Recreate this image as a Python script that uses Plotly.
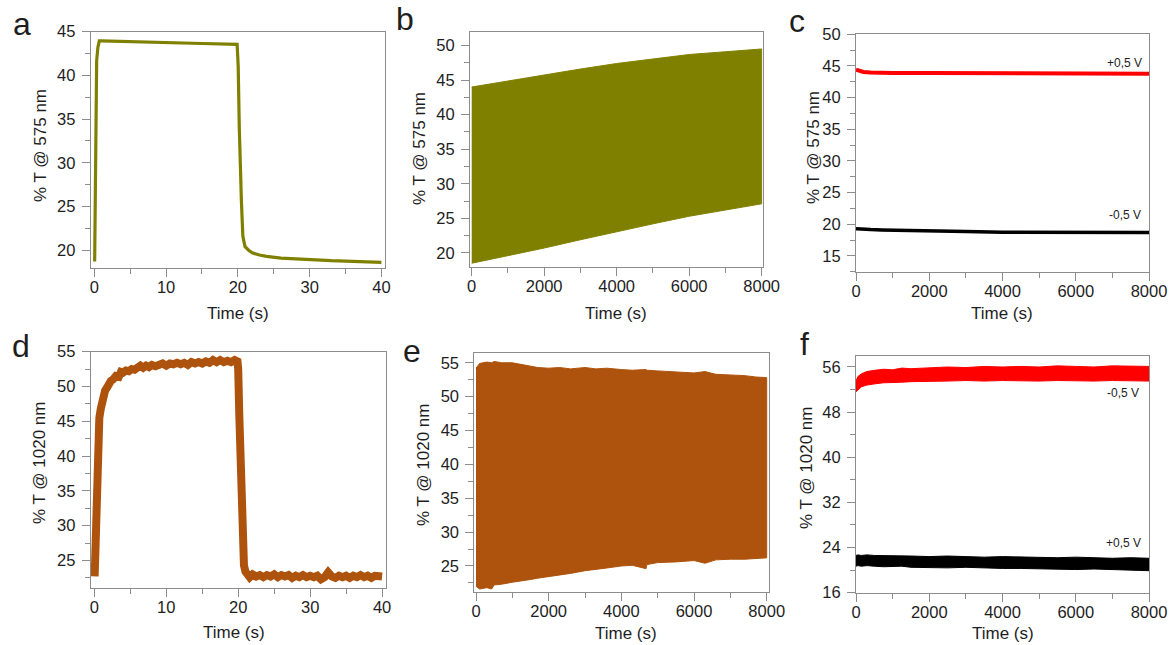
import plotly.graph_objects as go
from plotly.subplots import make_subplots

W, H = 1169, 645

OLIVE = "rgb(128,128,0)"
RUST = "rgb(174,83,13)"
RED = "rgb(255,0,0)"
BLACK = "rgb(0,0,0)"
FRAME = "#8c8c8c"
TXT = "#1e1e1e"
FONT = "Liberation Sans, Arial, sans-serif"

# ---- panel a: single switching cycle @ 575 nm
a_time = [0.05, 0.15, 0.33, 0.5, 0.7, 1, 5, 10, 15, 19.9, 20.05, 20.2, 20.35, 20.5,
          20.7, 21, 21.5, 22, 23, 24, 26, 28, 30, 33, 35, 38, 40]
a_trans = [18.7, 28.0, 41.7, 43.2, 43.95, 43.95, 43.85, 43.7, 43.65, 43.55, 41.0, 34.0,
           28.5, 25.5, 21.6, 20.4, 20.0, 19.7, 19.45, 19.3, 19.1, 19.0, 18.9, 18.8,
           18.75, 18.65, 18.6]

# ---- panel b: long-term cycling @ 575 nm (envelope of the cycles)
b_time = [0, 1000, 2000, 3000, 4000, 5000, 6000, 7000, 8000]
b_upper = [44.0, 44.9, 45.8, 46.6, 47.4, 48.1, 48.7, 49.1, 49.5]
b_lower = [18.5, 19.6, 20.7, 21.9, 23.1, 24.2, 25.3, 26.2, 27.1]

# ---- panel c: memory @ 575 nm
c_time = [0, 100, 200, 400, 700, 1000, 2000, 3000, 4000, 5000, 6000, 7000, 8000]
c_plus = [44.4, 44.2, 44.05, 43.95, 43.9, 43.9, 43.9, 43.88, 43.85, 43.8, 43.8, 43.78, 43.75]
c_minus = [19.3, 19.25, 19.2, 19.15, 19.1, 19.05, 18.95, 18.85, 18.75, 18.72, 18.7, 18.7, 18.68]

# ---- panel d: single switching cycle @ 1020 nm
d_time = [0.05, 0.2, 0.35, 0.5, 0.7, 0.9, 1.1, 1.3, 1.5, 1.8, 2.0, 2.3, 2.6, 3.0, 3.4, 3.7,
          4.0, 4.4, 4.8, 5.2, 5.6, 6.0, 6.4, 6.8, 7.2, 7.6, 8.0, 8.5, 9.0, 9.5, 10.0, 10.5,
          11.0, 11.5, 12.0, 12.5, 13.0, 13.5, 14.0, 14.5, 15.0, 15.5, 16.0, 16.5, 17.0,
          17.5, 18.0, 18.5, 19.0, 19.5, 19.9, 20.0, 20.15, 20.3, 20.45, 20.6, 20.8, 21.0,
          21.3, 21.6, 22.0, 22.5, 23.0, 23.5, 24.0, 24.5, 25.0, 25.5, 26.0, 26.5, 27.0,
          27.5, 28.0, 28.5, 29.0, 29.5, 30.0, 30.5, 31.0, 31.5, 32.0, 32.5, 33.0, 33.5,
          34.0, 34.5, 35.0, 35.5, 36.0, 36.5, 37.0, 37.5, 38.0, 38.5, 39.0, 39.5, 40.0]
d_trans = [22.7, 30.0, 38.0, 43.0, 45.5, 46.8, 47.9, 48.6, 49.4, 49.9, 50.5, 50.8, 51.0,
           51.5, 51.4, 52.1, 52.0, 52.3, 52.2, 52.5, 52.4, 52.7, 53.0, 52.7, 53.0, 52.8,
           53.1, 52.9, 53.1, 53.3, 53.0, 53.3, 53.2, 53.4, 53.2, 53.4, 53.1, 53.5, 53.3,
           53.5, 53.3, 53.6, 53.4, 53.8, 53.5, 53.8, 53.5, 53.7, 53.5, 53.8, 53.6, 52.5,
           46.0, 38.0, 31.0, 26.5, 24.3, 23.4, 23.0, 22.6, 23.0, 22.7, 22.9, 22.6, 22.9,
           22.7, 23.0, 22.6, 22.9, 22.7, 22.9, 22.5, 22.8, 22.6, 22.9, 22.6, 22.8, 22.6,
           22.8, 22.3, 22.6, 23.3, 22.7, 22.5, 22.8, 22.6, 22.8, 22.5, 22.8, 22.6, 22.9,
           22.6, 22.8, 22.5, 22.8, 22.6, 22.7]

# ---- panel e: long-term cycling @ 1020 nm (envelope of the cycles)
e_time = [0, 100, 300, 430, 500, 700, 1000, 1200, 1500, 1700, 2000, 2300, 2600, 3000,
          3300, 3600, 4000, 4300, 4680, 4700, 5000, 5500, 6000, 6300, 6600, 7000, 7400,
          7700, 8000]
e_upper = [54.2, 54.9, 55.1, 55.0, 55.2, 55.0, 55.0, 54.8, 54.4, 54.3, 54.2, 54.3, 54.1,
           54.3, 54.1, 54.2, 54.0, 53.9, 54.0, 53.9, 53.8, 53.6, 53.5, 53.7, 53.3, 53.2,
           53.1, 52.9, 52.8]
e_lower = [22.0, 21.6, 21.8, 21.6, 22.2, 22.3, 22.6, 22.8, 23.0, 23.2, 23.5, 23.7, 23.9,
           24.3, 24.5, 24.7, 25.0, 25.1, 24.6, 25.2, 25.5, 25.6, 25.8, 25.4, 25.9, 26.0,
           26.0, 26.1, 26.2]

# ---- panel f: memory @ 1020 nm (noise band)
f_time = [0, 50, 150, 300, 500, 750, 1000, 1250, 1500, 2000, 2500, 3000, 3500, 4000,
          4500, 5000, 5500, 6000, 6500, 7000, 7500, 8000]
f_minus_hi = [53.5, 54.3, 54.8, 55.2, 55.4, 55.6, 55.5, 55.8, 55.7, 55.9, 56.0, 55.9,
              56.1, 56.0, 56.1, 56.0, 56.2, 56.1, 56.0, 56.2, 56.1, 56.1]
f_minus_lo = [51.6, 52.0, 52.5, 52.8, 53.0, 53.2, 53.3, 53.3, 53.4, 53.5, 53.5, 53.6,
              53.5, 53.6, 53.6, 53.5, 53.6, 53.6, 53.5, 53.6, 53.6, 53.5]
f_plus_hi = [22.6, 22.7, 22.6, 22.7, 22.6, 22.6, 22.5, 22.6, 22.5, 22.4, 22.5, 22.4,
             22.3, 22.4, 22.3, 22.3, 22.2, 22.3, 22.2, 22.1, 22.2, 22.1]
f_plus_lo = [20.7, 20.8, 20.7, 20.8, 20.7, 20.6, 20.6, 20.7, 20.5, 20.5, 20.4, 20.5,
             20.4, 20.3, 20.3, 20.2, 20.2, 20.1, 20.2, 20.0, 20.0, 19.9]


def band(t, hi, lo, color):
    # closed polygon between an upper and a lower envelope
    return go.Scatter(x=list(t) + list(t)[::-1], y=list(hi) + list(lo)[::-1],
                      mode="lines", fill="toself", fillcolor=color,
                      line=dict(color=color, width=1), showlegend=False,
                      hoverinfo="skip")


fig = make_subplots(rows=2, cols=3)

fig.add_trace(go.Scatter(x=a_time, y=a_trans, mode="lines",
                         line=dict(color=OLIVE, width=3.2)), row=1, col=1)
fig.add_trace(band(b_time, b_upper, b_lower, OLIVE), row=1, col=2)
fig.add_trace(go.Scatter(x=c_time, y=c_plus, mode="lines",
                         line=dict(color=RED, width=4)), row=1, col=3)
fig.add_trace(go.Scatter(x=c_time, y=c_minus, mode="lines",
                         line=dict(color=BLACK, width=3.5)), row=1, col=3)
fig.add_trace(go.Scatter(x=d_time, y=d_trans, mode="lines",
                         line=dict(color=RUST, width=8)), row=2, col=1)
fig.add_trace(band(e_time, e_upper, e_lower, RUST), row=2, col=2)
fig.add_trace(band(f_time, f_minus_hi, f_minus_lo, RED), row=2, col=3)
fig.add_trace(band(f_time, f_plus_hi, f_plus_lo, BLACK), row=2, col=3)

# plot frames in pixels: left, right, top, bottom
boxes = {
    1: (90.7, 385.0, 31.7, 267.7),
    2: (470.0, 762.7, 31.7, 266.7),
    3: (856.0, 1149.0, 34.3, 271.7),
    4: (90.7, 385.7, 351.7, 588.3),
    5: (474.3, 769.0, 353.3, 591.7),
    6: (856.0, 1149.0, 355.7, 592.7),
}

xcfg = {
    1: dict(range=[-0.5, 40.5], dtick=10, minor=5),
    2: dict(range=[-47, 8028], dtick=2000, minor=1000),
    3: dict(range=[0, 8000], dtick=2000, minor=1000),
    4: dict(range=[-0.5, 40.5], dtick=10, minor=5),
    5: dict(range=[-47, 8063], dtick=2000, minor=1000),
    6: dict(range=[0, 8000], dtick=2000, minor=1000),
}
ycfg = {
    1: dict(range=[18, 45], dtick=5, minor=2.5),
    2: dict(range=[18, 52], dtick=5, minor=2.5),
    3: dict(range=[12.5, 50], dtick=5, minor=2.5),
    4: dict(range=[21, 55], dtick=5, minor=2.5),
    5: dict(range=[21.2, 56.4], dtick=5, minor=2.5),
    6: dict(range=[16, 58], dtick=8, minor=4),
}


def axis_style(cfg, standoff):
    return dict(range=cfg["range"], tick0=0, dtick=cfg["dtick"], showgrid=False,
                zeroline=False, showline=True, mirror=True, linecolor=FRAME,
                linewidth=1, ticks="outside", ticklen=8, tickwidth=1, tickcolor=FRAME,
                tickfont=dict(size=16.5, color=TXT, family=FONT),
                ticklabelstandoff=standoff,
                minor=dict(tick0=0, dtick=cfg["minor"], ticks="outside", ticklen=5,
                           tickwidth=1, tickcolor=FRAME, showgrid=False),
                automargin=False)


for i in range(1, 7):
    l, r, t, b = boxes[i]
    xa = axis_style(xcfg[i], -4)
    xa["domain"] = [l / W, r / W]
    ya = axis_style(ycfg[i], 3)
    ya["domain"] = [1 - b / H, 1 - t / H]
    key = "" if i == 1 else str(i)
    fig.layout["xaxis" + key].update(xa)
    fig.layout["yaxis" + key].update(ya)


def note(x, y, text, size, angle=0, xanchor="center"):
    fig.add_annotation(x=x / W, y=1 - y / H, xref="paper", yref="paper", text=text,
                       showarrow=False, textangle=angle, xanchor=xanchor,
                       yanchor="middle", font=dict(size=size, color=TXT, family=FONT))


# panel letters
for letter, px, py in [("a", 22, 24), ("b", 405, 19), ("c", 797, 21),
                       ("d", 21, 346), ("e", 412, 351), ("f", 804, 344)]:
    note(px, py, letter, 32)

# axis titles
for px, py, txt in [(40, 146, "% T @ 575 nm"), (419, 149, "% T @ 575 nm"),
                    (813, 148, "% T @ 575 nm"), (39, 463, "% T @ 1020 nm"),
                    (424, 465, "% T @ 1020 nm"), (806, 468, "% T @ 1020 nm")]:
    note(px, py, txt, 17, angle=-90)
for px, py in [(238, 313), (616, 313), (1002, 313), (234, 632), (626, 633), (1003, 633)]:
    note(px, py, "Time (s)", 17)

# potential labels
note(1144, 63, "+0,5 V", 12, xanchor="right")
note(1143, 215, "-0,5 V", 12, xanchor="right")
note(1141, 393, "-0,5 V", 12, xanchor="right")
note(1143, 543, "+0,5 V", 12, xanchor="right")

fig.update_layout(width=W, height=H, margin=dict(l=0, r=0, t=0, b=0),
                  paper_bgcolor="white", plot_bgcolor="white", showlegend=False,
                  font=dict(family=FONT, color=TXT))

# the page's default 8px body margin would shift the whole figure
fig.write_html("out.html", config={"displayModeBar": False},
               post_script="document.body.style.margin = '0';")
